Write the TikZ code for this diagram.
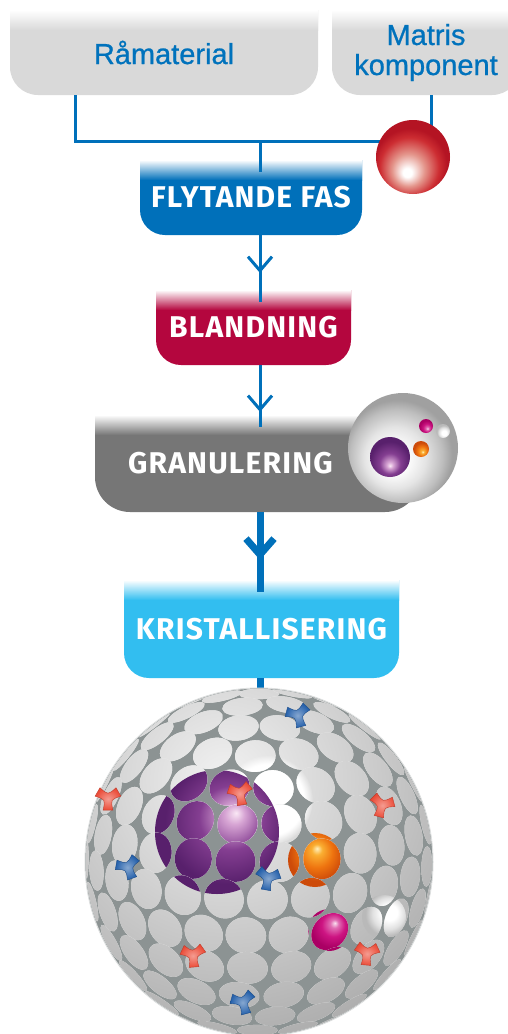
\documentclass[tikz,border=0pt]{standalone}
\usepackage{fontspec}
\usetikzlibrary{arrows.meta,decorations.markings,fadings}
\newfontfamily\rubrikfont{Liberation Sans}[FakeBold=0.8]
\newfontfamily\stegfont{Fira Sans}[LetterSpace=4]

\definecolor{rubrikbla}{RGB}{0,114,188}
\definecolor{ramgra}{RGB}{217,217,217}
\definecolor{linjebla}{RGB}{0,112,186}
\definecolor{flytbla}{RGB}{0,112,186}
\definecolor{blandrod}{RGB}{180,6,62}
\definecolor{granulgra}{RGB}{118,118,118}
\definecolor{kristbla}{RGB}{50,190,240}
\definecolor{natgra}{RGB}{140,147,147}
\definecolor{cellljus}{RGB}{242,242,242}
\definecolor{cellmork}{RGB}{172,172,172}
\definecolor{hakerod}{RGB}{235,75,55}
\definecolor{hakebla}{RGB}{35,95,170}
\definecolor{rodljus}{RGB}{228,150,140}
\definecolor{rodmitt}{RGB}{205,45,50}
\definecolor{rodmork}{RGB}{180,20,35}
\definecolor{silver1}{RGB}{228,228,228}
\definecolor{silver2}{RGB}{190,190,190}
\definecolor{silver3}{RGB}{160,160,160}
\definecolor{lila0}{RGB}{250,232,245}
\definecolor{lila1}{RGB}{215,165,212}
\definecolor{lila2}{RGB}{132,62,145}
\definecolor{lila3}{RGB}{88,32,108}
\definecolor{orange0}{RGB}{255,240,190}
\definecolor{orange1}{RGB}{250,175,50}
\definecolor{orange2}{RGB}{238,115,15}
\definecolor{orange3}{RGB}{205,75,10}
\definecolor{magenta0}{RGB}{250,225,240}
\definecolor{magenta1}{RGB}{225,110,180}
\definecolor{magenta2}{RGB}{205,20,130}
\definecolor{magenta3}{RGB}{170,0,100}
\definecolor{vit1}{RGB}{225,225,225}
\definecolor{vit2}{RGB}{185,185,185}

\pgfdeclareradialshading{rodkula}{\pgfpoint{0bp}{-12bp}}{color(0bp)=(white); color(3bp)=(white); color(11bp)=(rodljus); color(20bp)=(rodmitt); color(25bp)=(rodmork); color(50bp)=(rodmork)}
\pgfdeclareradialshading{silverkula}{\pgfpoint{0bp}{-8bp}}{color(0bp)=(white); color(6bp)=(white); color(14bp)=(silver1); color(21bp)=(silver2); color(25bp)=(silver3); color(50bp)=(silver3)}
\pgfdeclareradialshading{lilakula}{\pgfpoint{0bp}{-11bp}}{color(0bp)=(lila0); color(4bp)=(lila1); color(13bp)=(lila2); color(25bp)=(lila3); color(50bp)=(lila3)}
\pgfdeclareradialshading{orangekula}{\pgfpoint{0bp}{-11bp}}{color(0bp)=(orange0); color(5bp)=(orange1); color(15bp)=(orange2); color(25bp)=(orange3); color(50bp)=(orange3)}
\pgfdeclareradialshading{magentakula}{\pgfpoint{0bp}{-11bp}}{color(0bp)=(magenta0); color(5bp)=(magenta1); color(14bp)=(magenta2); color(25bp)=(magenta3); color(50bp)=(magenta3)}
\pgfdeclareradialshading{vitkula}{\pgfpoint{0bp}{-10bp}}{color(0bp)=(white); color(9bp)=(white); color(18bp)=(vit1); color(25bp)=(vit2); color(50bp)=(vit2)}

\tikzset{
  ramruta/.style={minimum height=85pt, inner sep=0pt, text=rubrikbla,
    font=\rubrikfont\fontsize{29}{30}\selectfont, align=center,
    path picture={\fill[ramgra] (path picture bounding box.north west) [rounded corners=28pt] -- (path picture bounding box.south west)
        -- (path picture bounding box.south east) [sharp corners] -- (path picture bounding box.north east) -- cycle;
      \shade[top color=white, bottom color=ramgra] (path picture bounding box.north west) rectangle ([yshift=-20pt]path picture bounding box.north east);}},
  stegruta/.style={inner sep=0pt, minimum height=75pt, text=white,
    font=\stegfont\bfseries\fontsize{30}{32}\selectfont,
    path picture={\fill[#1] (path picture bounding box.north west) [rounded corners=\hornradie] -- (path picture bounding box.south west)
        -- (path picture bounding box.south east) [sharp corners] -- (path picture bounding box.north east) -- cycle;
      \shade[top color=white, bottom color=#1] (path picture bounding box.north west) rectangle ([yshift=-20pt]path picture bounding box.north east);}},
  flode/.style={draw=linjebla, line width=3pt},
  pil/.style={postaction={decorate}, decoration={markings, mark=at position #1 with {\arrow{Straight Barb[length=14pt, width=24pt]}}}},
  tjockpil/.style={postaction={decorate}, decoration={markings, mark=at position #1 with {\arrow{Straight Barb[length=16pt, width=28pt]}}}},
  cell/.style={path picture={\begin{scope}[reset cm]
    \shade[inner color=cellljus, outer color=cellmork] (225,780) circle (270);
    \fill[white, path fading=circle with fuzzy edge 20 percent] (268,800) circle (45);
    \shade[shading=lilakula, shading angle=135] (217,832) circle (62);
    \shade[shading=orangekula, shading angle=170] (315,860) circle (27);
    \shade[shading=vitkula, shading angle=130] (384,917) circle (22);
    \shade[shading=magentakula, shading angle=140] (329,930) circle (21);
    \end{scope}}},
  pics/hake/.style={code={\shade[inner color=#1!55!white, outer color=#1, draw=#1!80!black, line width=0.4pt]
    (68:13) -- (112:13) .. controls (150:3) .. (188:13) -- (232:13) .. controls (270:3) .. (308:13)
    -- (352:13) .. controls (30:3) .. (68:13) -- cycle;}}
}
\newcommand\hornradie{25pt}

\begin{document}
\begin{tikzpicture}[x=1pt,y=-1pt]
\useasboundingbox[fill=white] (0,0) rectangle (508,1034);

% utgangsmaterial
\node[ramruta, minimum width=308] (ramat) at (164,52.5) {Råmaterial};
\node[ramruta, minimum width=188] (matris) at (426,52.5) {Matris\\komponent};
\coordinate (hL) at (75,141);
\coordinate (hM) at (260,141);
\coordinate (hR) at (431,141);

% processteg
\node[stegruta=flytbla, minimum width=222] (flyt) at (251,197.5) {FLYTANDE FAS};
\node[stegruta=blandrod, minimum width=195] (bland) at (253.5,327.5) {BLANDNING};
\renewcommand\hornradie{35pt}
\node[stegruta=granulgra, minimum width=325, minimum height=97,
  text width=259pt, inner xsep=33pt, align=left] (granul) at (257.5,463.5) {GRANULERING};
\renewcommand\hornradie{25pt}
\node[stegruta=kristbla, minimum width=275, minimum height=98] (krist) at (261.5,629) {KRISTALLISERING};
\node[circle, fill=natgra, minimum size=348, inner sep=0pt] (kula) at (259,862) {};

% flodet
\draw[flode] (ramat.south -| hL) |- (hR);
\draw[flode] (matris.south -| hR) -- (hR);
\draw[flode] (hM) -- (flyt.north -| hM) -- ++(0,12);
\draw[flode, pil=0.567] (flyt.south -| hM) -- (bland.north -| hM) -- ++(0,12);
\draw[flode, pil=0.758] (bland.south -| hM) -- (granul.north -| hM) -- ++(0,12);
\draw[flode, line width=7pt, tjockpil=0.6] (granul.south -| hM) -- (krist.north -| hM) -- ++(0,12);
\draw[flode, line width=7pt] (krist.south -| hM) -- (kula.north -| hM);

% matriskomponenten
\node[circle, shade, shading=rodkula, shading angle=-20, minimum size=74, inner sep=0pt] (boll) at (413,157) {};

% granulen
\node[circle, shade, shading=silverkula, shading angle=-40, minimum size=110, inner sep=0pt] (korn) at (403,448) {};
\shade[shading=lilakula] (390,457) circle (20);
\shade[shading=orangekula, shading angle=30] (421,449) circle (8);
\shade[shading=magentakula, shading angle=30] (426,426) circle (7);
\shade[shading=vitkula, shading angle=30] (443,431) circle (7);

% kristallen
\begin{scope}
\clip (kula.center) circle (173);
\foreach \r in {0,...,14}{
  \pgfmathsetmacro\th{12.5*\r}
  \pgfmathtruncatemacro\nc{max(1,round(360*sin(\th)/14.4))}
  \foreach \c in {1,...,\nc}{
    \pgfmathsetmacro\ph{360*(\c+0.5*mod(\r,2))/\nc+8}
    \pgfmathsetmacro\kx{sin(\th)*cos(\ph)}
    \pgfmathsetmacro\ky{cos(\th)*sin(75)-sin(\th)*sin(\ph)*cos(75)}
    \pgfmathsetmacro\kz{cos(\th)*cos(75)+sin(\th)*sin(\ph)*sin(75)}
    \ifdim\kz pt>0.03pt
      \pgfmathsetmacro\kv{atan2(\ky,\kx)}
      \fill[cellljus, cell, shift={(259+174*\kx,862-174*\ky)}, rotate=\kv] (0,0) ellipse ({20*\kz} and 20.3);
    \fi
  }
}
\end{scope}
\draw[white!70!natgra, line width=1pt] (kula.center) circle (174);

\pic[rotate=15] at (298,715) {hake=hakebla};
\pic at (108,798) {hake=hakerod};
\pic[rotate=10] at (240,793) {hake=hakerod};
\pic[rotate=-15] at (382,805) {hake=hakerod};
\pic[rotate=20] at (128,867) {hake=hakebla};
\pic[rotate=-10] at (268,878) {hake=hakebla};
\pic[rotate=5] at (193,955) {hake=hakerod};
\pic[rotate=-5] at (367,953) {hake=hakerod};
\pic[rotate=15] at (243,1002) {hake=hakebla};
\end{tikzpicture}
\end{document}
